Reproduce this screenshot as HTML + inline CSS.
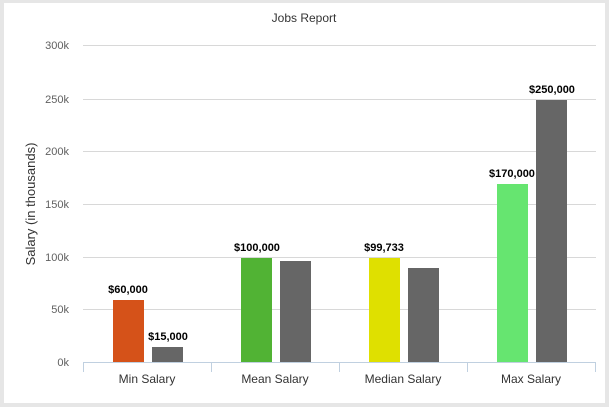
<!DOCTYPE html><html><head><style>body{margin:0;background:#e6e6e6}svg{display:block}</style></head><body>
<svg width="609" height="407" xmlns="http://www.w3.org/2000/svg" font-family="Liberation Sans, sans-serif">
<rect x="0" y="0" width="609" height="407" fill="#e6e6e6"/>
<rect x="4" y="3" width="601" height="400" fill="#fff"/>
<text x="304" y="22" text-anchor="middle" font-size="12" fill="#333">Jobs Report</text>
<g stroke="#d8d8d8" stroke-width="1">
<line x1="83" x2="596" y1="45.5" y2="45.5"/><line x1="83" x2="596" y1="99.5" y2="99.5"/>
<line x1="83" x2="596" y1="151.5" y2="151.5"/><line x1="83" x2="596" y1="204.5" y2="204.5"/>
<line x1="83" x2="596" y1="257.5" y2="257.5"/><line x1="83" x2="596" y1="309.5" y2="309.5"/>
</g>
<g font-size="11" fill="#606060" text-anchor="end">
<text x="69" y="49">300k</text><text x="69" y="103">250k</text><text x="69" y="155">200k</text>
<text x="69" y="208">150k</text><text x="69" y="261">100k</text><text x="69" y="313">50k</text><text x="69" y="366">0k</text>
</g>
<text transform="translate(35,204) rotate(-90)" text-anchor="middle" font-size="13" fill="#333">Salary (in thousands)</text>
<g fill="#666">
<rect x="152" y="347" width="31" height="15"/><rect x="280" y="261" width="31" height="101"/>
<rect x="408" y="268" width="31" height="94"/><rect x="536" y="100" width="31" height="262"/>
</g>
<rect x="113" y="300" width="31" height="62" fill="#d55219"/>
<rect x="241" y="258" width="31" height="104" fill="#51b334"/>
<rect x="369" y="258" width="31" height="104" fill="#dfe000"/>
<rect x="497" y="184" width="31" height="178" fill="#66e570"/>
<g stroke="#c0d0e0" stroke-width="1">
<line x1="83" x2="596" y1="362.5" y2="362.5"/>
<line x1="83.5" x2="83.5" y1="362" y2="372"/><line x1="211.5" x2="211.5" y1="362" y2="372"/>
<line x1="339.5" x2="339.5" y1="362" y2="372"/><line x1="467.5" x2="467.5" y1="362" y2="372"/><line x1="595.5" x2="595.5" y1="362" y2="372"/>
</g>
<g font-size="12" fill="#333" text-anchor="middle">
<text x="147" y="383">Min Salary</text><text x="275" y="383">Mean Salary</text>
<text x="403" y="383">Median Salary</text><text x="531" y="383">Max Salary</text>
</g>
<g font-size="11" font-weight="bold" fill="#000" text-anchor="middle">
<text x="128" y="293">$60,000</text><text x="168" y="340">$15,000</text>
<text x="257" y="251">$100,000</text><text x="384" y="251">$99,733</text>
<text x="512" y="177">$170,000</text><text x="552" y="93">$250,000</text>
</g>
</svg></body></html>
